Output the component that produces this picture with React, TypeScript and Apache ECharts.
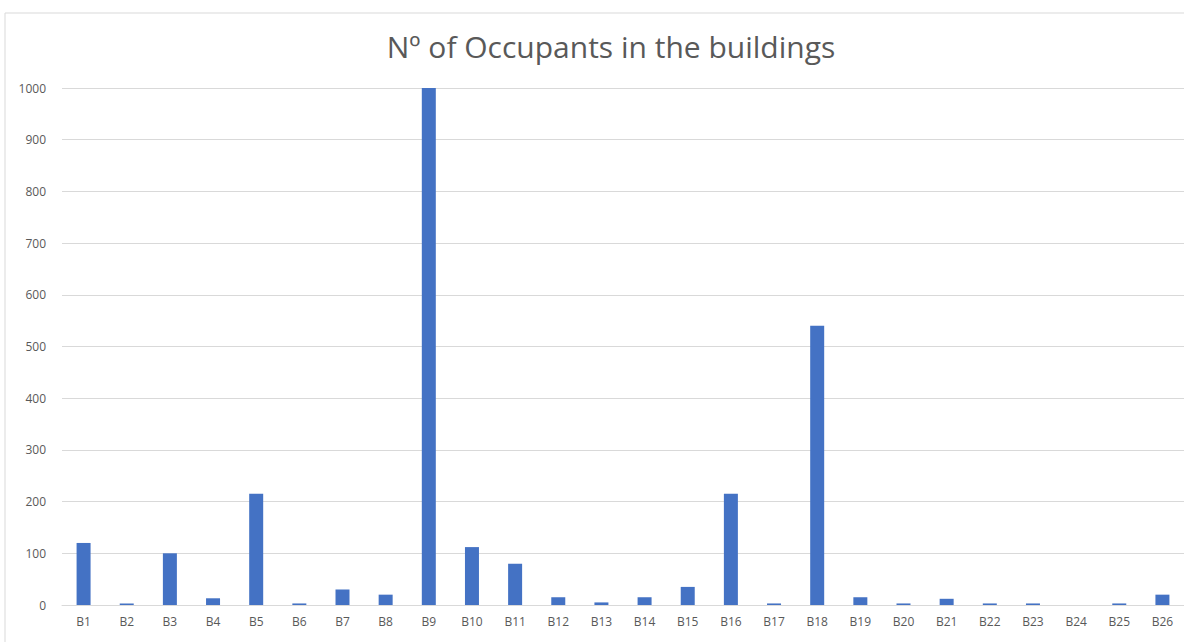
import React, { useEffect, useRef } from "react";
import * as echarts from "echarts";

const categories = [
  "B1", "B2", "B3", "B4", "B5", "B6", "B7", "B8", "B9", "B10", "B11", "B12", "B13",
  "B14", "B15", "B16", "B17", "B18", "B19", "B20", "B21", "B22", "B23", "B24", "B25", "B26",
];
const occupants = [
  120, 3, 100, 13, 215, 3, 30, 20, 1000, 112, 80, 15, 5,
  15, 35, 215, 3, 540, 15, 3, 12, 3, 3, 0, 3, 20,
];
const titleText = "Nº of Occupants in the buildings";

export default function App() {
  const ref = useRef<HTMLDivElement>(null);
  useEffect(() => {
    if (!ref.current) return;
    const chart = echarts.init(ref.current, null, { renderer: "svg" });
    chart.setOption({
      animation: false,
      backgroundColor: "#ffffff",
      title: {
        text: titleText,
        left: 606,
        top: 26,
        textAlign: "center",
        textStyle: {
          fontFamily: "Open Sans",
          fontSize: 30,
          fontWeight: "normal",
          color: "#595959",
        },
      },
      graphic: [
        {
          type: "rect",
          shape: { x: 5, y: 13, width: 1250, height: 700 },
          style: { fill: "none", stroke: "#d9d9d9", lineWidth: 1 },
          silent: true,
          z: -1,
        },
      ],
      grid: { left: 62, top: 88, width: 1127, height: 517, containLabel: false },
      xAxis: {
        type: "category",
        data: categories,
        axisLine: { lineStyle: { color: "#d9d9d9" } },
        axisTick: { show: false },
        axisLabel: {
          color: "#595959",
          fontFamily: "Open Sans",
          fontSize: 12,
          margin: 10,
          interval: 0,
        },
      },
      yAxis: {
        type: "value",
        min: 0,
        max: 1000,
        interval: 100,
        axisLine: { show: false },
        axisTick: { show: false },
        splitLine: { lineStyle: { color: "#d9d9d9" } },
        axisLabel: {
          color: "#595959",
          fontFamily: "Open Sans",
          fontSize: 12,
          margin: 16,
          formatter: (v: number) => String(v),
        },
      },
      series: [
        {
          type: "bar",
          data: occupants,
          barWidth: 14,
          itemStyle: { color: "#4472c4" },
        },
      ],
    });
    return () => chart.dispose();
  }, []);
  return (
    <div
      ref={ref}
      style={{ position: "fixed", left: 0, top: 0, width: 1184, height: 642 }}
    />
  );
}
